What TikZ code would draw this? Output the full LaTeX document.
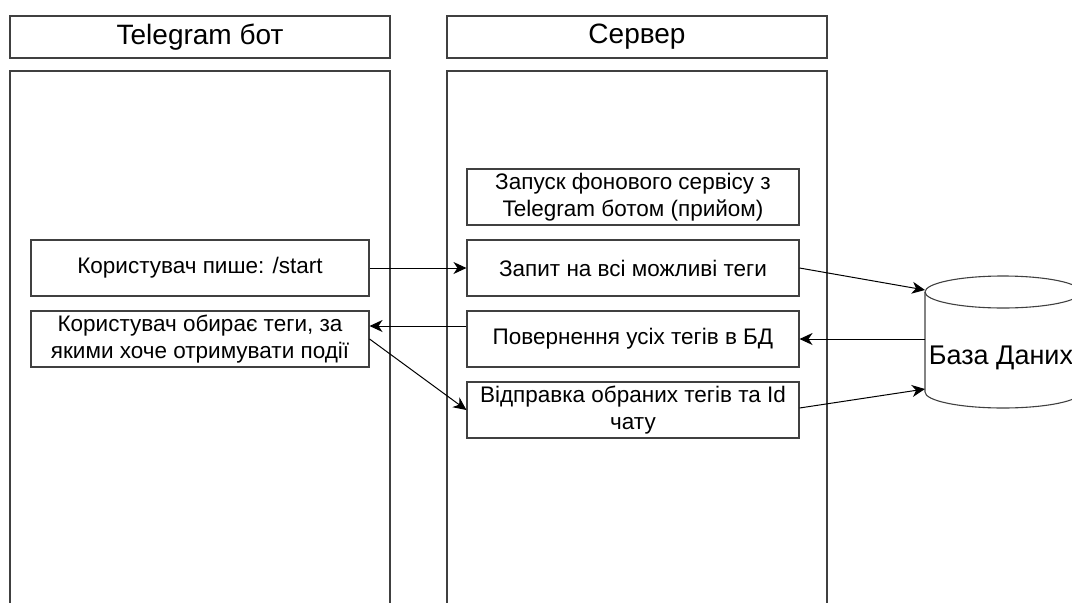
\documentclass[tikz,border=0pt]{standalone}
\usepackage{fontspec}
\setmainfont{Liberation Sans}
\usetikzlibrary{arrows.meta}

\begin{document}
\begin{tikzpicture}[x=1pt, y=-1pt, line width=1.1pt,
    lane/.style = {shape=rectangle, draw=black!75, minimum width=380pt, minimum height=42pt, font=\fontsize{28}{32}\selectfont},
    box/.style = {shape=rectangle, draw=black!75, align=center, inner sep=0pt, minimum height=56pt, font=\fontsize{22.5}{27.5}\selectfont},
    arr/.style = {draw=black, line width=1pt, -{Stealth[length=13pt, width=12pt, inset=4pt]}}]
    \useasboundingbox (0,0) rectangle (1072,603);
    \clip (0,0) rectangle (1072,603);
    % swimlanes
    \node[lane] (hbot) at (200,37) {Telegram бот};
    \node[lane] (hsrv) at (637,37) {Сервер};
    \draw[black!75] (10,640) -- (10,71) -- (390,71) -- (390,640);
    \draw[black!75] (447,640) -- (447,71) -- (827,71) -- (827,640);
    % bot side
    \node[box, minimum width=338pt] (ustart) at (200,268) {Користувач пише: /start};
    \node[box, minimum width=338pt] (uchoose) at (200,339) {Користувач обирає теги, за\\якими хоче отримувати події};
    % server side
    \node[box, minimum width=332pt] (launch) at (633,197) {Запуск фонового сервісу з\\Telegram ботом (прийом)};
    \node[box, minimum width=332pt] (query) at (633,268) {Запит на всі можливі теги};
    \node[box, minimum width=332pt] (ret) at (633,339) {Повернення усіх тегів в БД};
    \node[box, minimum width=332pt] (send) at (633,410) {Відправка обраних тегів та Id\\чату};
    % database
    \draw[black!75] (925,292) -- (925,392) arc[start angle=180, end angle=360, x radius=78pt, y radius=16pt] -- (1081,292);
    \draw[black!75] (1003,292) ellipse [x radius=78pt, y radius=16pt];
    \node[font=\fontsize{27}{30}\selectfont] (db) at (1001,358) {База Даних};
    \coordinate (dbin) at (925,290);
    \coordinate (dbout) at (925,339);
    \coordinate (dbsave) at (925,389);
    % flows
    \draw[arr] (ustart) -- (query);
    \draw[arr] (query.east) -- (dbin);
    \draw[arr] (dbout) -- (ret.east);
    \draw[arr] ([yshift=13pt]ret.west) -- ([yshift=13pt]uchoose.east);
    \draw[arr] (uchoose.east) -- (send.west);
    \draw[arr] ([yshift=2pt]send.east) -- (dbsave);
\end{tikzpicture}
\end{document}
